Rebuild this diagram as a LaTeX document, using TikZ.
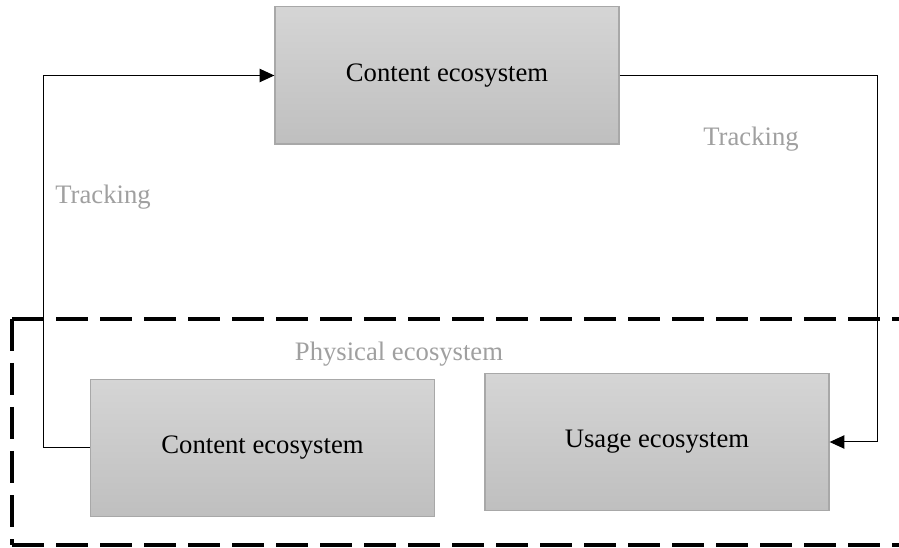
\documentclass[tikz,border=0pt]{standalone}
\usepackage{fontspec}
\setmainfont{Liberation Serif}
\usetikzlibrary{arrows.meta}
\definecolor{boxline}{HTML}{A8A8A8}
\definecolor{boxtop}{HTML}{D5D5D5}
\definecolor{boxbot}{HTML}{BFBFBF}
\definecolor{lbl}{HTML}{A0A0A0}
\tikzset{
  ecobox/.style={draw=boxline, line width=1pt, top color=boxtop, bottom color=boxbot,
    minimum width=258pt, minimum height=103pt, inner sep=0pt,
    font=\fontsize{20}{24}\selectfont, text=black},
  graylbl/.style={font=\fontsize{20}{24}\selectfont, text=lbl, inner sep=0pt},
  conn/.style={line width=0.75pt, black},
  arr/.style={conn, -{Triangle[length=11pt,width=10pt]}},
  region/.style={line width=3pt, dash pattern=on 24pt off 9pt}
}
\begin{document}
\begin{tikzpicture}[x=0.75pt,y=-0.75pt]
\useasboundingbox (0,0) rectangle (899,548);
\fill[white] (0,0) rectangle (899,548);
\draw[region] (12,319) -- (905,319) (12,545) -- (905,545) (12,319) -- (12,545);
\node[ecobox] (ct) at (447,75.5) {Content ecosystem};
\node[ecobox] (cb) at (262.5,448) {Content ecosystem};
\node[ecobox] (ub) at (657,442) {Usage ecosystem};
\node[graylbl] (t1) at (751,139) {Tracking};
\node[graylbl] (t2) at (103,197) {Tracking};
\node[graylbl] (pe) at (399,354) {Physical ecosystem};
\coordinate (lp) at (43,75.5);
\coordinate (rp) at (877,75.5);
\draw[arr] (cb.west) -| (lp) -- (ct.west);
\draw[arr] (ct.east) -- (rp) |- (ub.east);
\end{tikzpicture}
\end{document}
